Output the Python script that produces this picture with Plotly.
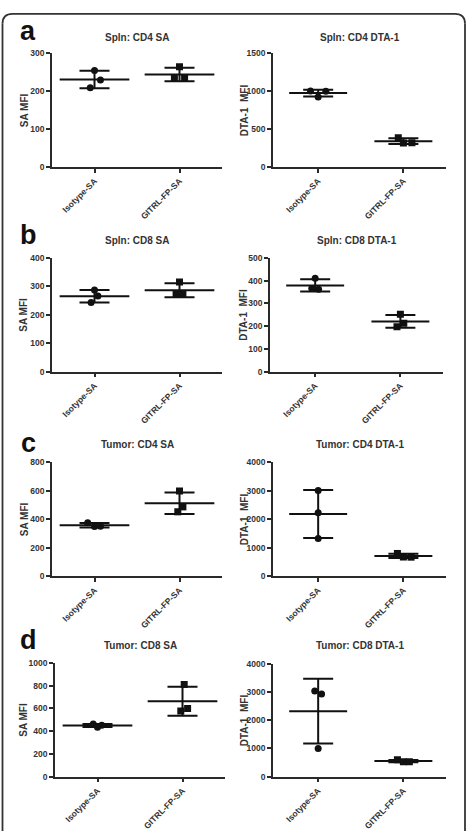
import numpy as np
import plotly.graph_objects as go

W, H = 469, 831

# ---------------- data ----------------
CATEGORIES = ["Isotype-SA", "GITRL-FP-SA"]
PANEL_LETTERS = ["a", "b", "c", "d"]
PANEL_TITLES = ["Spln: CD4 SA", "Spln: CD4 DTA-1",
                "Spln: CD8 SA", "Spln: CD8 DTA-1",
                "Tumor: CD4 SA", "Tumor: CD4 DTA-1",
                "Tumor: CD8 SA", "Tumor: CD8 DTA-1"]
Y_TITLES = ["SA MFI", "DTA-1  MFI"] * 4
Y_MAX = [300, 1500, 400, 500, 800, 4000, 1000, 4000]
Y_DTICK = [100, 500, 100, 100, 200, 1000, 200, 1000]
ISOTYPE_VALUES = [[255, 230, 209], [1005, 1000, 925],
                  [287, 266, 243], [410, 365, 362],
                  [375, 348, 350], [3010, 2230, 1320],
                  [462, 453, 435], [3040, 2930, 1000]]
GITRL_VALUES = [[265, 234, 234], [387, 318, 320],
                [315, 272, 272], [252, 213, 197],
                [598, 487, 452], [795, 670, 665],
                [810, 600, 578], [600, 530, 525]]

# ---------------- style / layout ----------------
ISO_JITTER = [[0, 0.07, -0.05], [-0.09, 0.09, 0], [0, 0.04, -0.04], [0, -0.04, 0.04],
              [-0.08, 0, 0.07], [0, 0, 0], [-0.05, 0.05, 0], [-0.04, 0.04, 0]]
GITRL_JITTER = [[0, -0.06, 0.06], [-0.06, 0, 0.1], [0, -0.04, 0.04], [0, 0.04, -0.04],
                [0, 0.04, -0.02], [-0.07, 0, 0.09], [0.02, 0.06, -0.02], [-0.07, 0, 0.07]]
# pixel domains (x0, x1) and (ytop, ybottom)
X_DOM = [(52, 222), (273, 446), (52, 222), (270, 443),
         (52, 222), (273, 446), (55, 225), (273, 446)]
Y_DOM = [(49, 164), (49, 164), (256, 371), (256, 371),
         (463, 578), (463, 578), (666, 781), (667, 781)]
X_RANGE_LEFT = [-0.5, 1.5]
X_RANGE_RIGHT = [-0.53, 1.5]
MEAN_HW_LEFT = 0.41
MEAN_HW_RIGHT = 0.34
TITLE_Y = [33, 238, 445, 648]
LETTER_Y = [26, 233, 443, 643]

FONT = "Liberation Sans, Arial, sans-serif"
TXT = "#333333"
AX = "#2a2a2a"
MARK = "#111111"

fig = go.Figure()
layout = dict(width=W, height=H, margin=dict(l=0, r=0, t=0, b=0),
              paper_bgcolor="white", plot_bgcolor="white", showlegend=False)
annotations = []

for k in range(8):
    sfx = "" if k == 0 else str(k + 1)
    xa, ya = "x" + sfx, "y" + sfx
    left = (k % 2 == 0)
    x0, x1 = X_DOM[k]
    yt, yb = Y_DOM[k]
    layout["xaxis" + sfx] = dict(
        domain=[x0 / W, x1 / W], anchor=ya,
        range=X_RANGE_LEFT if left else X_RANGE_RIGHT,
        showgrid=False, zeroline=False, showline=True, linecolor=AX, linewidth=1.6,
        ticks="outside", ticklen=4, tickwidth=1.6, tickcolor=AX,
        tickvals=[0, 1], ticktext=CATEGORIES, tickangle=-45,
        tickfont=dict(family=FONT, size=8.5, color=TXT, weight="bold"),
        fixedrange=True)
    layout["yaxis" + sfx] = dict(
        domain=[1 - yb / H, 1 - yt / H], anchor=xa,
        range=[0, Y_MAX[k]], dtick=Y_DTICK[k], tick0=0,
        showgrid=False, zeroline=False, showline=True, linecolor=AX, linewidth=1.6,
        ticks="outside", ticklen=4, tickwidth=1.6, tickcolor=AX,
        tickfont=dict(family=FONT, size=8.5, color=TXT, weight="bold"),
        fixedrange=True)

    hw = MEAN_HW_LEFT if left else MEAN_HW_RIGHT
    for ci, (vals, jit, sym) in enumerate([(ISOTYPE_VALUES[k], ISO_JITTER[k], "circle"),
                                            (GITRL_VALUES[k], GITRL_JITTER[k], "square")]):
        v = np.array(vals, dtype=float)
        m = v.mean()
        sd = v.std(ddof=1)
        fig.add_trace(go.Scatter(x=[ci - hw, ci + hw], y=[m, m], mode="lines",
                                 line=dict(color=MARK, width=2), xaxis=xa, yaxis=ya,
                                 hoverinfo="skip"))
        fig.add_trace(go.Scatter(x=[ci], y=[m], mode="markers",
                                 marker=dict(size=1, color="rgba(0,0,0,0)"),
                                 error_y=dict(type="data", array=[sd], visible=True,
                                              thickness=2, width=15, color=MARK),
                                 xaxis=xa, yaxis=ya, hoverinfo="skip"))
        fig.add_trace(go.Scatter(x=[ci + j for j in jit], y=vals, mode="markers",
                                 marker=dict(symbol=sym, size=7, color=MARK),
                                 xaxis=xa, yaxis=ya))

    annotations.append(dict(text=PANEL_TITLES[k], xref="paper", yref="paper",
                            x=(x0 + x1) / 2 / W, y=1 - TITLE_Y[k // 2] / H,
                            xanchor="center", yanchor="middle", showarrow=False,
                            font=dict(family=FONT, size=10, color=TXT, weight="bold")))
    annotations.append(dict(text=Y_TITLES[k], xref="paper", yref="paper",
                            x=(24 if left else 244) / W, y=1 - (yt + yb) / 2 / H,
                            xanchor="center", yanchor="middle", textangle=-90,
                            showarrow=False,
                            font=dict(family=FONT, size=10, color=TXT, weight="bold")))

for i, letter in enumerate(PANEL_LETTERS):
    annotations.append(dict(text=letter, xref="paper", yref="paper",
                            x=28 / W, y=1 - LETTER_Y[i] / H,
                            xanchor="center", yanchor="middle", showarrow=False,
                            font=dict(family=FONT, size=27, color="#111111", weight="bold")))

layout["annotations"] = annotations

# rounded frame, open at the bottom (sides run off the page)
fx0, fx1, fy0 = 2.5 / W, 465 / W, 1 - 9 / H
rx, ry = 10 / W, 10 / H
frame_line = dict(color="#333333", width=1.8)
top_path = (f"M {fx0},{fy0 - ry} Q {fx0},{fy0} {fx0 + rx},{fy0} "
            f"L {fx1 - rx},{fy0} Q {fx1},{fy0} {fx1},{fy0 - ry}")
layout["shapes"] = [
    dict(type="path", xref="paper", yref="paper", path=top_path, line=frame_line),
    dict(type="line", xref="paper", yref="paper", x0=fx0, x1=fx0, y0=fy0 - ry, y1=-0.05,
         line=frame_line),
    dict(type="line", xref="paper", yref="paper", x0=fx1, x1=fx1, y0=fy0 - ry, y1=-0.05,
         line=frame_line),
]

fig.update_layout(**layout)
fig.write_html("out.html")
